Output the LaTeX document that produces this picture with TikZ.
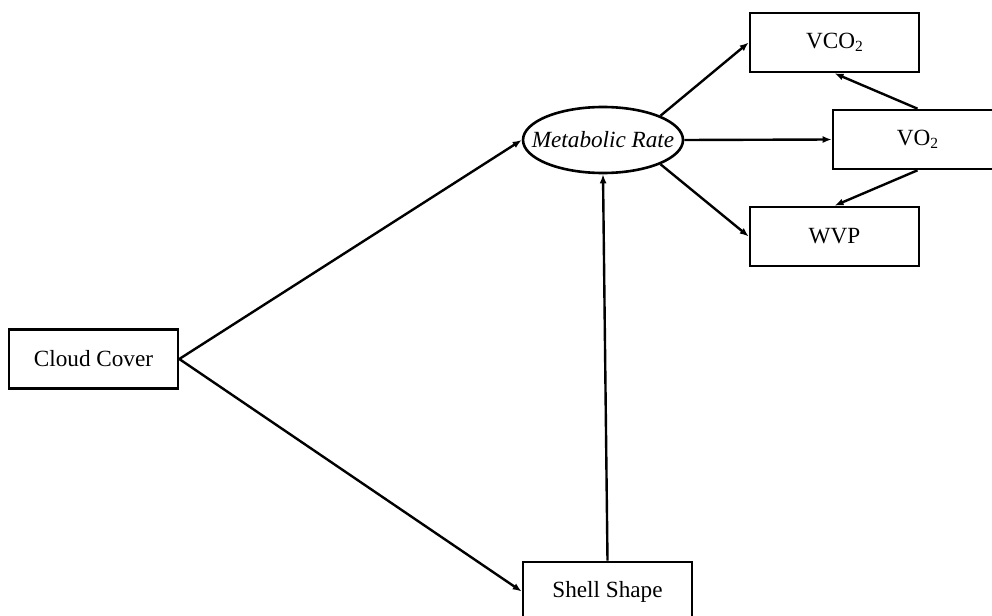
\documentclass[tikz,border=0pt]{standalone}
\usepackage{fontspec}
\setmainfont{Liberation Serif}
\usetikzlibrary{arrows.meta,shapes.geometric}
\newcommand{\subtwo}{\raisebox{-0.3ex}{\fontsize{15.5}{16}\selectfont 2}}
\begin{document}
\begin{tikzpicture}[x=1pt,y=-1pt,
  box/.style={draw,line width=2.6pt,minimum width=169pt,minimum height=59pt,inner sep=0pt,font=\fontsize{23.2}{27}\selectfont},
  oval/.style={draw,ellipse,line width=2.6pt,minimum width=160pt,minimum height=66pt,inner sep=0pt,font=\fontsize{23.2}{27}\selectfont\itshape},
  conn/.style={line width=2.4pt,-{Latex[length=9pt,width=7pt]}}]
\useasboundingbox (0,0) rectangle (992,615);
\clip (0,0) rectangle (992,615);
\node[box] (cc) at (93.5,359) {Cloud Cover};
\node[oval] (mr) at (603,140) {\makebox[0pt]{Metabolic Rate}};
\node[box] (vco2) at (834.5,42.5) {VCO\subtwo};
\node[box] (vo2) at (917.5,139.5) {VO\subtwo};
\node[box] (wvp) at (834.5,236.5) {WVP};
\node[box] (ss) at (607.5,591.5) {Shell Shape};
\draw[conn] (cc.east) -- (mr.west);
\draw[conn] (cc.east) -- (ss.west);
\draw[conn] (ss.north) -- (mr.south);
\draw[conn] (mr.north east) -- (vco2.west);
\draw[conn] (mr.east) -- (vo2.west);
\draw[conn] (mr.south east) -- (wvp.west);
\draw[conn] (vo2.north) -- (vco2.south);
\draw[conn] (vo2.south) -- (wvp.north);
\end{tikzpicture}
\end{document}
